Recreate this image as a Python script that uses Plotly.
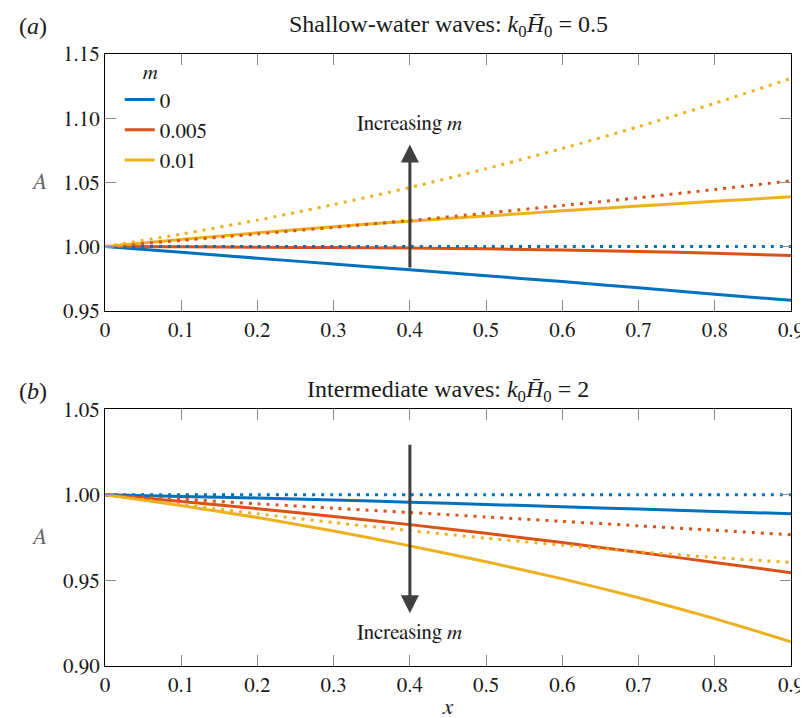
import plotly.graph_objects as go

# ---------------- data ----------------
x_vals = [0.0, 0.1, 0.2, 0.3, 0.4, 0.5, 0.6, 0.7, 0.8, 0.9]
m_labels = ["0", "0.005", "0.01"]
colors = ["#0072BD", "#D95319", "#EDB120"]

# Panel (a): shallow-water waves, k0*H0 = 0.5
a_solid_m0 = [1.0, 0.9955, 0.9909, 0.9864, 0.9819, 0.9773, 0.9727, 0.9679, 0.9629, 0.9581]
a_solid_m005 = [1.0, 0.9998, 0.9995, 0.9992, 0.9988, 0.9982, 0.9973, 0.9962, 0.9947, 0.9930]
a_solid_m01 = [1.0, 1.0055, 1.0107, 1.0155, 1.0198, 1.0238, 1.0278, 1.0315, 1.0352, 1.0388]
a_dot_m0 = [1.0, 1.0, 1.0, 1.0, 1.0, 1.0, 1.0, 1.0, 1.0, 1.0]
a_dot_m005 = [1.0, 1.0048, 1.0098, 1.0150, 1.0203, 1.0260, 1.0320, 1.0380, 1.0445, 1.0512]
a_dot_m01 = [1.0, 1.0097, 1.0206, 1.0327, 1.0460, 1.0606, 1.0764, 1.0934, 1.1116, 1.1310]

# Panel (b): intermediate waves, k0*H0 = 2
b_solid_m0 = [1.0, 0.9991, 0.9981, 0.9970, 0.9957, 0.9944, 0.9930, 0.9917, 0.9903, 0.9890]
b_solid_m005 = [1.0, 0.9961, 0.9919, 0.9874, 0.9826, 0.9775, 0.9721, 0.9664, 0.9605, 0.9545]
b_solid_m01 = [1.0, 0.9937, 0.9867, 0.9789, 0.9702, 0.9609, 0.9509, 0.9399, 0.9277, 0.9142]
b_dot_m0 = [1.0, 1.0, 1.0, 1.0, 1.0, 1.0, 1.0, 1.0, 1.0, 1.0]
b_dot_m005 = [1.0, 0.9974, 0.9948, 0.9922, 0.9897, 0.9871, 0.9845, 0.9819, 0.9793, 0.9767]
b_dot_m01 = [1.0, 0.9943, 0.9889, 0.9838, 0.9791, 0.9747, 0.9706, 0.9667, 0.9634, 0.9605]

x_ticks = [0, 0.1, 0.2, 0.3, 0.4, 0.5, 0.6, 0.7, 0.8, 0.9]
x_ticklabels = ["0", "0.1", "0.2", "0.3", "0.4", "0.5", "0.6", "0.7", "0.8", "0.9"]
ya_ticks = [0.95, 1.00, 1.05, 1.10, 1.15]
yb_ticks = [0.90, 0.95, 1.00, 1.05]

FONT = "FreeSerif"
TFONT = "Times New Roman"
LW = 3
DOT = "3px,6px"

fig = go.Figure()

panels = [
    ("x", "y", [a_solid_m0, a_solid_m005, a_solid_m01], [a_dot_m0, a_dot_m005, a_dot_m01], True),
    ("x2", "y2", [b_solid_m0, b_solid_m005, b_solid_m01], [b_dot_m0, b_dot_m005, b_dot_m01], False),
]
for xa, ya, solids, dots, show in panels:
    for i, ys in enumerate(solids):
        fig.add_trace(go.Scatter(
            x=x_vals, y=ys, xaxis=xa, yaxis=ya, mode="lines",
            line=dict(color=colors[i], width=LW, shape="spline", smoothing=0.6),
            name=m_labels[i], showlegend=show, legendgroup=m_labels[i]))
    for i, ys in enumerate(dots):
        fig.add_trace(go.Scatter(
            x=x_vals, y=ys, xaxis=xa, yaxis=ya, mode="lines",
            line=dict(color=colors[i], width=LW, dash=DOT, shape="spline", smoothing=0.6),
            name=m_labels[i], showlegend=False, legendgroup=m_labels[i]))

axis_common = dict(
    showline=True, linecolor="black", linewidth=1.3, mirror="ticks",
    ticks="inside", ticklen=11, tickwidth=1.3, tickcolor="#8a8a8a",
    showgrid=False, zeroline=False,
    tickfont=dict(family=FONT, size=21, color="#1a1a1a"),
)

dom_a = [(661 - 304) / 615, 1.0]
dom_b = [0.0, (661 - 403) / 615]

fig.update_layout(
    template="simple_white",
    width=808, height=718,
    margin=dict(l=97, r=14, t=46, b=57),
    paper_bgcolor="white", plot_bgcolor="white",
    font=dict(family=FONT, size=21, color="#1a1a1a"),
    xaxis=dict(axis_common, range=[0, 0.9], tickvals=x_ticks, ticktext=x_ticklabels,
               anchor="y", domain=[0, 1]),
    yaxis=dict(axis_common, range=[0.95, 1.15], tickvals=ya_ticks, tickformat=".2f",
               domain=dom_a, anchor="x"),
    xaxis2=dict(axis_common, range=[0, 0.9], tickvals=x_ticks, ticktext=x_ticklabels,
                anchor="y2", domain=[0, 1],
                title=dict(text="<i>x</i>", font=dict(family=FONT, size=23, color="#1a1a1a"),
                           standoff=2)),
    yaxis2=dict(axis_common, range=[0.90, 1.05], tickvals=yb_ticks, tickformat=".2f",
                domain=dom_b, anchor="x2"),
    legend=dict(
        x=(112 - 97) / 697, y=(661 - 44) / 615, xanchor="left", yanchor="top",
        bgcolor="rgba(0,0,0,0)", borderwidth=0,
        font=dict(family=FONT, size=21, color="#1a1a1a"),
        title=dict(text="    <i>m</i>", font=dict(family=FONT, size=21, color="#1a1a1a"), side="top"),
        tracegroupgap=0,
    ),
)

ann = []
# y-axis labels (upright, grey)
ann.append(dict(text="<i>A</i>", x=(30 - 97) / 697, y=(661 - 175) / 615, xref="paper", yref="paper",
                xanchor="center", yanchor="middle", showarrow=False,
                font=dict(family=FONT, size=23, color="#666666")))
ann.append(dict(text="<i>A</i>", x=(30 - 97) / 697, y=(661 - 532) / 615, xref="paper", yref="paper",
                xanchor="center", yanchor="middle", showarrow=False,
                font=dict(family=FONT, size=23, color="#666666")))
# panel labels and titles
ann.append(dict(text="(<i>a</i>)", x=(8 - 97) / 697, y=(661 - 18) / 615, xref="paper", yref="paper",
                xanchor="left", yanchor="middle", showarrow=False, font=dict(family=TFONT, size=24)))
ann.append(dict(text="Shallow-water waves: <i>k</i><sub>0</sub><i>H\u0304</i><sub>0</sub> = 0.5",
                x=0.5, y=(661 - 18) / 615, xref="paper", yref="paper",
                xanchor="center", yanchor="middle", showarrow=False, font=dict(family=TFONT, size=24)))
ann.append(dict(text="(<i>b</i>)", x=(8 - 97) / 697, y=(661 - 385) / 615, xref="paper", yref="paper",
                xanchor="left", yanchor="middle", showarrow=False, font=dict(family=TFONT, size=24)))
ann.append(dict(text="Intermediate waves: <i>k</i><sub>0</sub><i>H\u0304</i><sub>0</sub> = 2",
                x=0.5, y=(661 - 385) / 615, xref="paper", yref="paper",
                xanchor="center", yanchor="middle", showarrow=False, font=dict(family=TFONT, size=24)))

# arrows
ann.append(dict(text="", x=0.4, y=1.0795, ax=0.4, ay=0.9826, xref="x", yref="y", axref="x", ayref="y",
                showarrow=True, arrowhead=2, arrowsize=1.2, arrowwidth=3, arrowcolor="#404040"))
ann.append(dict(text="Increasing <i>m</i>", x=0.4, y=1.0956, xref="x", yref="y",
                showarrow=False, xanchor="center", yanchor="middle", font=dict(family=FONT, size=21)))
ann.append(dict(text="", x=0.4, y=0.9308, ax=0.4, ay=1.0302, xref="x2", yref="y2", axref="x2", ayref="y2",
                showarrow=True, arrowhead=2, arrowsize=1.2, arrowwidth=3, arrowcolor="#404040"))
ann.append(dict(text="Increasing <i>m</i>", x=0.4, y=0.9194, xref="x2", yref="y2",
                showarrow=False, xanchor="center", yanchor="middle", font=dict(family=FONT, size=21)))

fig.update_layout(annotations=ann)

fig.write_html("out.html")
